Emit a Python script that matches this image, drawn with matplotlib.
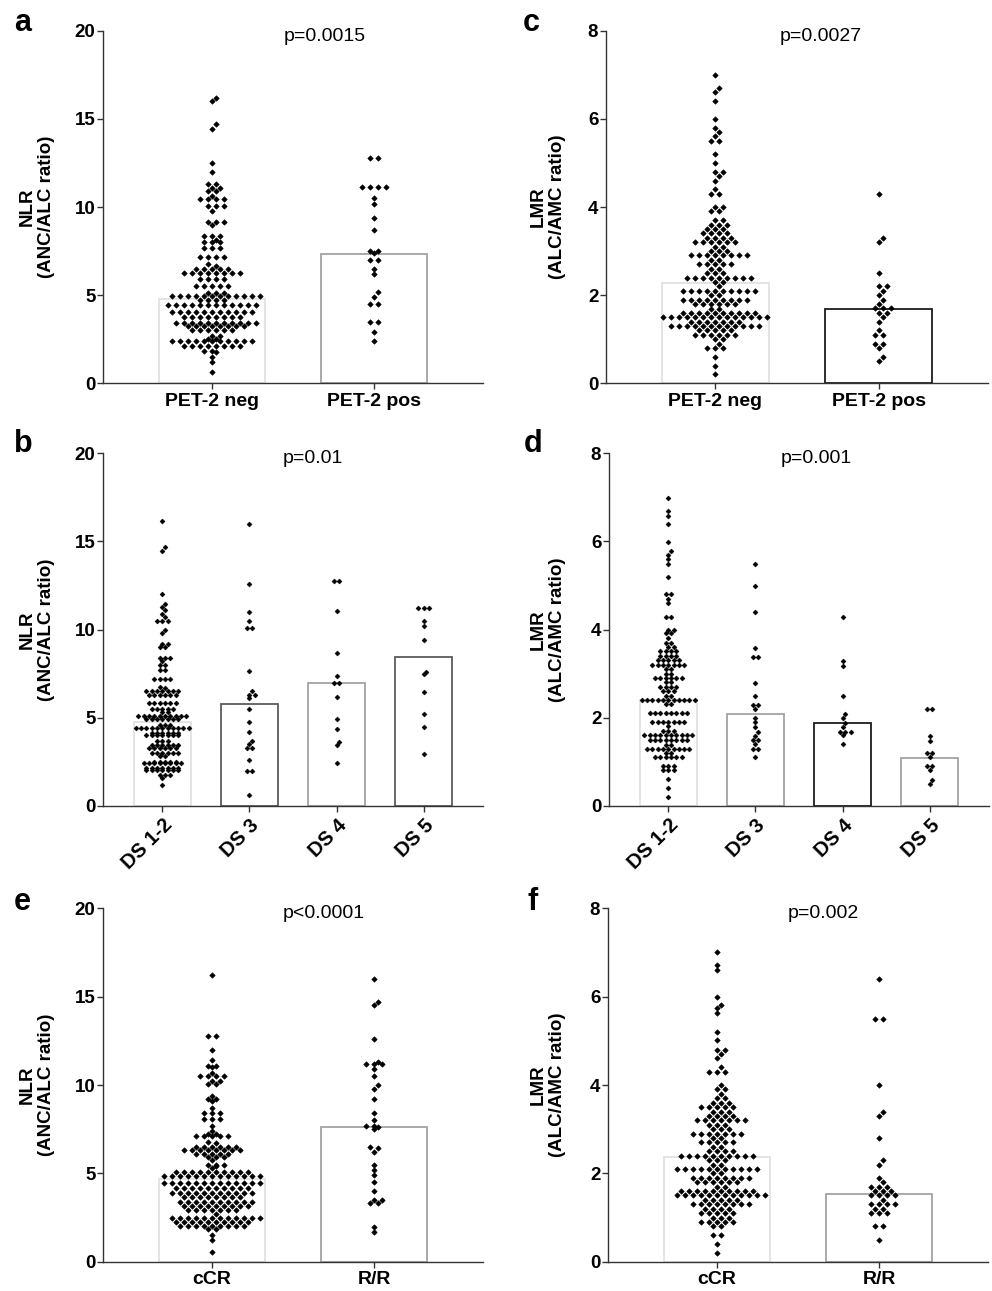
import numpy as np
import matplotlib
matplotlib.use("Agg")
import matplotlib.pyplot as plt

plt.rcParams['font.family'] = ['Liberation Sans', 'DejaVu Sans']

# ---------------- data (row value levels and number of dots per level) -------------
# Panel a : NLR by PET-2
a_cats = ["PET-2 neg", "PET-2 pos"]
a_means = [4.8, 7.35]
a_neg_val = [16.2, 16.0, 14.7, 14.45, 12.5, 11.97, 11.3, 11.1, 10.9, 10.65, 10.46, 10.03, 9.76,
             9.15, 9.0, 8.37, 8.14, 8.0, 7.68, 7.15, 6.78, 6.65, 6.46, 6.25, 5.9, 5.5, 5.1, 4.93,
             4.7, 4.42, 4.05, 3.75, 3.42, 3.23, 3.0, 2.68, 2.53, 2.4, 2.1, 1.85, 1.75, 1.5, 1.2, 0.65]
a_neg_n = [1, 1, 1, 1, 1, 1, 2, 2, 2, 1, 4, 3, 1,
           3, 1, 3, 1, 3, 3, 4, 1, 1, 5, 8, 4, 5, 3, 12,
           4, 12, 11, 8, 11, 8, 6, 2, 2, 11, 8, 2, 1, 1, 1, 1]
a_pos_val = [12.76, 11.15, 10.5, 10.17, 9.36, 8.7, 7.52, 7.37, 7.0, 6.46, 6.18, 5.16, 4.91,
             4.5, 3.5, 2.9, 2.4]
a_pos_n = [2, 4, 1, 1, 1, 1, 2, 1, 2, 1, 1, 1, 1, 2, 2, 1, 1]

# Panel c : LMR by PET-2
c_cats = ["PET-2 neg", "PET-2 pos"]
c_means = [2.28, 1.68]
c_neg_val = [7.0, 6.7, 6.6, 6.4, 6.0, 5.8, 5.7, 5.6, 5.5, 5.2, 5.0, 4.8, 4.7, 4.6, 4.4, 4.3,
             4.0, 3.9, 3.7, 3.6, 3.5, 3.4, 3.3, 3.2, 3.1, 3.0, 2.9, 2.8, 2.7, 2.6, 2.5, 2.4,
             2.3, 2.2, 2.1, 2.0, 1.9, 1.8, 1.68, 1.6, 1.5, 1.4, 1.3, 1.2, 1.1, 1.0, 0.9, 0.8,
             0.6, 0.4, 0.2]
c_neg_n = [1, 1, 1, 1, 1, 1, 1, 1, 2, 1, 1, 2, 1, 1, 1, 2,
           2, 2, 2, 3, 3, 4, 4, 6, 2, 3, 8, 2, 5, 2, 3, 9,
           2, 1, 10, 2, 9, 6, 2, 10, 14, 7, 12, 5, 6, 2, 1, 3,
           1, 1, 1]
c_pos_val = [4.3, 3.3, 3.2, 2.5, 2.2, 2.1, 2.0, 1.9, 1.8, 1.7, 1.6, 1.5, 1.4, 1.2, 1.1,
             0.9, 0.8, 0.6, 0.5]
c_pos_n = [1, 1, 1, 1, 2, 1, 1, 1, 1, 3, 2, 1, 1, 1, 2, 2, 1, 1, 1]

# Panel b : NLR by Deauville score
b_cats = ["DS 1-2", "DS 3", "DS 4", "DS 5"]
b_means = [4.77, 5.75, 6.95, 8.45]
b_ds12_val = [16.15, 14.7, 14.47, 12.0, 11.43, 11.3, 11.1, 10.9, 10.7, 10.48, 10.0, 9.78,
              9.2, 9.0, 8.4, 8.2, 8.0, 7.7, 7.2, 6.75, 6.7, 6.5, 6.3, 5.85, 5.47, 5.3, 5.1,
              4.9, 4.6, 4.4, 4.14, 4.0, 3.7, 3.45, 3.25, 3.0, 2.8, 2.5, 2.4, 2.12, 2.0, 1.75,
              1.55, 1.17]
b_ds12_n = [1, 1, 1, 1, 1, 1, 1, 1, 1, 3, 1, 1,
            2, 2, 3, 1, 2, 2, 4, 1, 1, 7, 6, 6, 5, 2, 10,
            7, 3, 11, 6, 7, 3, 6, 6, 6, 2, 5, 8, 7, 7, 3,
            1, 1]
b_ds3_val = [15.97, 12.56, 11.0, 10.5, 10.07, 7.66, 6.5, 6.28, 6.13, 5.47, 4.77, 4.16, 3.67,
             3.5, 3.25, 2.6, 1.99, 0.6]
b_ds3_n = [1, 1, 1, 1, 2, 1, 1, 2, 1, 1, 1, 1, 1, 1, 2, 1, 2, 1]
b_ds4_val = [12.75, 11.07, 8.68, 7.36, 6.98, 6.15, 4.9, 4.35, 3.6, 3.44, 2.4]
b_ds4_n = [2, 1, 1, 1, 2, 1, 1, 1, 1, 1, 1]
b_ds5_val = [11.2, 10.48, 10.2, 9.4, 7.57, 7.47, 6.47, 5.18, 4.48, 2.91]
b_ds5_n = [3, 1, 1, 1, 1, 1, 1, 1, 1, 1]

# Panel d : LMR by Deauville score
d_cats = ["DS 1-2", "DS 3", "DS 4", "DS 5"]
d_means = [2.4, 2.08, 1.88, 1.08]
d_ds12_val = [6.98, 6.7, 6.58, 6.39, 5.98, 5.78, 5.69, 5.59, 5.48, 5.19, 4.8, 4.7, 4.6, 4.29,
              4.0, 3.91, 3.8, 3.7, 3.6, 3.51, 3.4, 3.3, 3.2, 3.1, 3.0, 2.9, 2.8, 2.7, 2.6, 2.5,
              2.4, 2.3, 2.1, 1.9, 1.8, 1.7, 1.6, 1.5, 1.38, 1.28, 1.2, 1.1, 0.9, 0.8, 0.6, 0.4,
              0.2]
d_ds12_n = [1, 1, 1, 1, 1, 1, 1, 1, 1, 1, 2, 1, 1, 2,
            2, 2, 1, 2, 2, 4, 4, 5, 7, 2, 2, 6, 2, 4, 3, 2,
            11, 2, 8, 7, 1, 3, 10, 8, 2, 9, 2, 6, 3, 3, 1, 1,
            1]
d_ds3_val = [5.49, 4.99, 4.4, 3.59, 3.38, 2.79, 2.49, 2.29, 2.19, 2.0, 1.89, 1.79, 1.68,
             1.59, 1.49, 1.4, 1.28, 1.1]
d_ds3_n = [1, 1, 1, 1, 2, 1, 1, 2, 1, 1, 1, 1, 1, 1, 2, 1, 2, 1]
d_ds4_val = [4.29, 3.29, 3.18, 2.49, 2.08, 2.0, 1.88, 1.79, 1.68, 1.6, 1.4]
d_ds4_n = [1, 1, 1, 1, 1, 1, 1, 1, 3, 1, 1]
d_ds5_val = [2.19, 1.59, 1.48, 1.2, 1.1, 0.9, 0.8, 0.58, 0.49]
d_ds5_n = [2, 1, 1, 2, 1, 2, 1, 1, 1]

# Panel e : NLR by response
e_cats = ["cCR", "R/R"]
e_means = [4.66, 7.65]
e_ccr_val = [16.2, 12.8, 12.0, 11.4, 11.1, 11.0, 10.7, 10.5, 10.2, 10.05, 9.4, 9.2, 9.1, 8.7,
             8.4, 8.1, 7.7, 7.4, 7.25, 7.1, 6.8, 6.7, 6.5, 6.3, 6.1, 5.9, 5.75, 5.5, 5.4, 5.28,
             5.1, 4.85, 4.45, 4.15, 3.9, 3.64, 3.4, 3.15, 2.92, 2.7, 2.45, 2.26, 2.0, 1.83,
             1.5, 1.22, 0.56]
e_ccr_n = [1, 2, 1, 1, 2, 1, 1, 4, 2, 2, 1, 2, 1, 1,
           3, 3, 1, 1, 2, 5, 1, 1, 6, 8, 5, 3, 1, 3, 1, 1,
           10, 13, 13, 10, 11, 8, 10, 9, 7, 1, 12, 10, 9, 2,
           1, 1, 1]
e_rr_val = [16.0, 14.72, 14.53, 12.58, 11.3, 11.2, 10.9, 10.5, 10.0, 9.77, 9.2, 8.4, 8.0,
            7.7, 7.6, 7.5, 6.5, 6.45, 6.19, 5.5, 5.2, 4.9, 4.5, 4.0, 3.5, 3.3, 1.98, 1.7]
e_rr_n = [1, 1, 1, 1, 1, 3, 1, 1, 1, 1, 1, 1, 1,
          2, 1, 1, 1, 1, 1, 1, 1, 1, 1, 1, 2, 2, 1, 1]

# Panel f : LMR by response
f_cats = ["cCR", "R/R"]
f_means = [2.38, 1.53]
f_ccr_val = [7.0, 6.72, 6.6, 6.0, 5.81, 5.74, 5.62, 5.21, 5.02, 4.8, 4.7, 4.6, 4.4, 4.3,
             4.0, 3.9, 3.8, 3.7, 3.6, 3.5, 3.4, 3.3, 3.2, 3.1, 3.0, 2.9, 2.8, 2.7, 2.6, 2.5,
             2.4, 2.3, 2.2, 2.1, 2.0, 1.9, 1.8, 1.7, 1.6, 1.5, 1.4, 1.3, 1.2, 1.1, 1.0, 0.9,
             0.8, 0.6, 0.4, 0.2]
f_ccr_n = [1, 1, 1, 1, 1, 1, 1, 1, 1, 2, 1, 1, 1, 3,
           1, 2, 1, 2, 3, 5, 3, 4, 7, 3, 3, 7, 2, 5, 2, 4,
           10, 3, 2, 11, 2, 8, 6, 2, 10, 12, 5, 8, 4, 5, 3, 5,
           2, 2, 1, 1]
f_rr_val = [6.4, 5.5, 4.0, 3.4, 3.3, 2.79, 2.3, 2.2, 1.89, 1.8, 1.7, 1.6, 1.5, 1.4, 1.3,
            1.2, 1.1, 0.8, 0.5]
f_rr_n = [1, 2, 1, 1, 1, 1, 1, 1, 1, 1, 3, 3, 4, 1, 4, 2, 3, 2, 1]

# ---------------- figure ----------------
W, H = 992, 1291
fig = plt.figure(figsize=(W / 100, H / 100), dpi=100)


def px_axes(left, top, right, bottom):
    return fig.add_axes([left / W, 1 - bottom / H, (right - left) / W, (bottom - top) / H])


def swarm(ax, xc, levels, counts, step_px, diam_px):
    order = np.argsort(levels)
    lv = np.asarray(levels, float)[order]
    nn = np.asarray(counts, int)[order]
    x0 = ax.transData.transform((0, 0))[0]
    x1 = ax.transData.transform((1, 0))[0]
    ppx = x1 - x0
    placed = []
    xs, ys = [], []
    for v, n in zip(lv, nn):
        ypx = ax.transData.transform((0, v))[1]
        base = (np.arange(n) - (n - 1) / 2) * step_px
        best, bestcost = None, None
        for shift in (0.0, step_px / 2, -step_px / 2):
            cand = base + shift
            cost = abs(shift) * 0.01
            for cx in cand:
                for (px_, py_) in placed:
                    d = np.hypot(cx - px_, ypx - py_)
                    if d < diam_px:
                        cost += 1 + (diam_px - d)
            if bestcost is None or cost < bestcost:
                best, bestcost = cand, cost
        for cx in best:
            placed.append((cx, ypx))
            xs.append(xc + cx / ppx)
            ys.append(v)
    return np.array(xs), np.array(ys)


def panel(ax, cats, groups, means, edges, ymax, ystep, ylabel, ptxt, px, lab_x,
          step, diam, ms, rotate):
    n = len(cats)
    xpos = np.arange(n)
    ax.set_xlim(-0.68 if n == 4 else -0.67, n - 1 + (0.68 if n == 4 else 0.67))
    ax.set_ylim(0, ymax)
    ax.bar(xpos, means, width=0.655, facecolor='white', edgecolor=edges,
           linewidth=1.3, zorder=1)
    for i, (vals, cnts) in enumerate(groups):
        xs, ys = swarm(ax, xpos[i], vals, cnts, step, diam)
        ax.plot(xs, ys, linestyle='none', marker='D', ms=ms, mew=0.4,
                mec='black', mfc='black', zorder=3, clip_on=False)
    for s in ('top', 'right'):
        ax.spines[s].set_visible(False)
    for s in ('left', 'bottom'):
        ax.spines[s].set_color('#333333')
        ax.spines[s].set_linewidth(1.0)
    ticks = np.arange(0, ymax + 0.001, ystep)
    ax.set_yticks(ticks)
    ax.set_yticklabels([f"{int(t)}" for t in ticks], fontsize=13.5, fontweight='bold')
    ax.tick_params(axis='y', direction='out', length=4, width=1.0, color='#333333', pad=1.5)
    ax.tick_params(axis='x', direction='out', length=4, width=1.0, color='#333333', pad=3)
    ax.set_xticks(xpos)
    if rotate:
        ax.set_xticklabels(cats, fontsize=14.5, fontweight='bold', rotation=45,
                           ha='right', va='top', rotation_mode='anchor')
    else:
        ax.set_xticklabels(cats, fontsize=14, fontweight='bold')
    ax.set_ylabel(ylabel, fontsize=13.5, fontweight='bold', linespacing=1.15)
    ax.yaxis.set_label_coords(lab_x, 0.5)
    ax.text(px, 0.972, ptxt, transform=ax.transAxes, fontsize=14, ha='center', va='baseline')


nlr_lab = "NLR\n(ANC/ALC ratio)"
lmr_lab = "LMR\n(ALC/AMC ratio)"
light, mid, dark, black = '#e2e2e2', '#a3a3a3', '#5c5c5c', '#1c1c1c'

ax_a = px_axes(103, 30.7, 483, 383.3)
panel(ax_a, a_cats, [(a_neg_val, a_neg_n), (a_pos_val, a_pos_n)], a_means, [light, mid],
      20, 5, nlr_lab, "p=0.0015", (325 - 103) / 380, -0.126, 8.0, 4.8, 2.8, False)

ax_c = px_axes(606, 30.7, 988, 383.3)
panel(ax_c, c_cats, [(c_neg_val, c_neg_n), (c_pos_val, c_pos_n)], c_means, [light, black],
      8, 2, lmr_lab, "p=0.0027", (821 - 606) / 382, -0.105, 8.0, 4.8, 2.8, False)

ax_b = px_axes(103, 453.3, 483, 805.7)
panel(ax_b, b_cats, [(b_ds12_val, b_ds12_n), (b_ds3_val, b_ds3_n), (b_ds4_val, b_ds4_n),
                     (b_ds5_val, b_ds5_n)], b_means, [light, dark, mid, dark],
      20, 5, nlr_lab, "p=0.01", (313 - 103) / 380, -0.126, 5.3, 4.2, 2.5, True)

ax_d = px_axes(609, 453.3, 989, 805.7)
panel(ax_d, d_cats, [(d_ds12_val, d_ds12_n), (d_ds3_val, d_ds3_n), (d_ds4_val, d_ds4_n),
                     (d_ds5_val, d_ds5_n)], d_means, [light, mid, black, mid],
      8, 2, lmr_lab, "p=0.001", (816 - 609) / 380, -0.113, 5.3, 4.2, 2.5, True)

ax_e = px_axes(103, 908.3, 483, 1261.7)
panel(ax_e, e_cats, [(e_ccr_val, e_ccr_n), (e_rr_val, e_rr_n)], e_means, [light, mid],
      20, 5, nlr_lab, "p<0.0001", (324 - 103) / 380, -0.126, 8.0, 4.8, 2.8, False)

ax_f = px_axes(608, 908.3, 988, 1261.7)
panel(ax_f, f_cats, [(f_ccr_val, f_ccr_n), (f_rr_val, f_rr_n)], f_means, [light, mid],
      8, 2, lmr_lab, "p=0.002", (823 - 608) / 380, -0.11, 8.0, 4.8, 2.8, False)

# panel letters
for letter, x, y in [("a", 14, 31), ("c", 523, 31), ("b", 14, 452), ("d", 524, 452),
                     ("e", 14, 910), ("f", 528, 910)]:
    fig.text(x / W, 1 - y / H, letter, fontsize=22, fontweight='bold', ha='left', va='baseline')

fig.savefig("out.png", dpi=100)
